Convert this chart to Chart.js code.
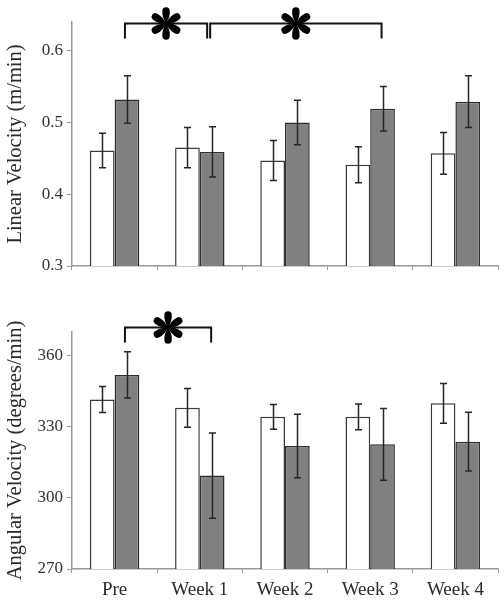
<!DOCTYPE html>
<html>
<head>
<meta charset="utf-8">
<script src="https://cdn.jsdelivr.net/npm/chart.js@4.4.1/dist/chart.umd.min.js"></script>
<style>
  html, body { margin: 0; padding: 0; background: #ffffff; }
  canvas { display: block; }
</style>
</head>
<body>
<canvas id="top" width="504" height="300"></canvas>
<canvas id="bottom" width="504" height="301"></canvas>
<script>
// ---------- DATA ----------
const categories = ['Pre', 'Week 1', 'Week 2', 'Week 3', 'Week 4'];

const linearWhite    = [0.461, 0.465, 0.447, 0.441, 0.457];
const linearWhiteErr = [0.024, 0.028, 0.028, 0.025, 0.029];
const linearGray     = [0.532, 0.459, 0.500, 0.519, 0.529];
const linearGrayErr  = [0.033, 0.035, 0.031, 0.031, 0.036];
const linearTicks    = [0.3, 0.4, 0.5, 0.6];

const angularWhite    = [341.5, 338.0, 334.2, 334.2, 339.9];
const angularWhiteErr = [5.5, 8.2, 5.2, 5.4, 8.4];
const angularGray     = [351.9, 309.4, 321.9, 322.6, 323.7];
const angularGrayErr  = [9.8, 18.0, 13.4, 15.1, 12.4];
const angularTicks    = [270, 300, 330, 360];

// significance brackets: pairs of category indices (drawn between dark bars)
const linearBrackets  = [[0, 1], [1, 3]];
const angularBrackets = [[0, 1]];

// ---------- STYLE ----------
const FONT = "'Liberation Serif', 'Times New Roman', serif";
const AXIS_COLOR = '#9a9a9a';
const TEXT_COLOR = '#2a2a2a';
const BAR_EDGE = '#3a3a3a';

const errorBarPlugin = {
  id: 'errorBars',
  afterDatasetsDraw(chart, args, opts) {
    const ctx = chart.ctx;
    const ys = chart.scales.y;
    ctx.save();
    ctx.strokeStyle = '#262626';
    ctx.lineWidth = 1.5;
    chart.data.datasets.forEach((ds, i) => {
      const meta = chart.getDatasetMeta(i);
      const errs = opts.errors[i];
      meta.data.forEach((bar, j) => {
        const v = ds.data[j], e = errs[j];
        const x = Math.round(bar.x) + 0.5;
        const y1 = ys.getPixelForValue(v + e);
        const y2 = ys.getPixelForValue(v - e);
        ctx.beginPath();
        ctx.moveTo(x, y1); ctx.lineTo(x, y2);
        ctx.moveTo(x - 3.5, y1); ctx.lineTo(x + 3.5, y1);
        ctx.moveTo(x - 3.5, y2); ctx.lineTo(x + 3.5, y2);
        ctx.stroke();
      });
    });
    ctx.restore();
  }
};

function drawAsterisk(ctx, cx, cy) {
  const angles = [90, 270, 32, 148, 212, 328];
  ctx.save();
  ctx.fillStyle = '#000';
  angles.forEach(a => {
    ctx.save();
    ctx.translate(cx, cy);
    ctx.rotate(-a * Math.PI / 180);
    ctx.beginPath();
    ctx.moveTo(0, 0);
    ctx.quadraticCurveTo(6.5, -4.2, 12.2, -3.7);
    ctx.arc(12.6, 0, 3.7, -Math.PI / 2, Math.PI / 2);
    ctx.quadraticCurveTo(6.5, 4.2, 0, 0);
    ctx.closePath();
    ctx.fill();
    ctx.restore();
  });
  ctx.beginPath();
  ctx.arc(cx, cy, 2.5, 0, Math.PI * 2);
  ctx.fill();
  ctx.restore();
}

const bracketPlugin = {
  id: 'sigBrackets',
  afterDraw(chart, args, opts) {
    const ctx = chart.ctx;
    const meta = chart.getDatasetMeta(1);
    const lineY = chart.chartArea.top + opts.lineOffset;
    const bottomY = lineY + opts.drop;
    ctx.save();
    ctx.strokeStyle = '#111';
    ctx.lineWidth = 2;
    opts.pairs.forEach((p, k) => {
      let x1 = meta.data[p[0]].x - 2;
      let x2 = meta.data[p[1]].x - 1;
      const next = opts.pairs[k + 1];
      if (next && next[0] === p[1]) x2 -= 4;
      ctx.beginPath();
      ctx.moveTo(x1, bottomY);
      ctx.lineTo(x1, lineY);
      ctx.lineTo(x2, lineY);
      ctx.lineTo(x2, bottomY);
      ctx.stroke();
      drawAsterisk(ctx, (x1 + x2) / 2, lineY);
    });
    ctx.restore();
  }
};

function makeChart(id, cfg) {
  return new Chart(document.getElementById(id), {
    type: 'bar',
    data: {
      labels: categories,
      datasets: [
        { data: cfg.white, backgroundColor: '#ffffff', borderColor: BAR_EDGE, borderWidth: 1.5,
          categoryPercentage: 0.58, barPercentage: 1.0 },
        { data: cfg.gray, backgroundColor: '#808080', borderColor: '#2e2e2e', borderWidth: 1.5,
          categoryPercentage: 0.58, barPercentage: 1.0 }
      ]
    },
    options: {
      responsive: false,
      animation: false,
      layout: { padding: { top: cfg.padTop, right: 6, left: 0, bottom: 0 } },
      plugins: {
        legend: { display: false },
        tooltip: { enabled: false },
        errorBars: { errors: [cfg.whiteErr, cfg.grayErr] },
        sigBrackets: { pairs: cfg.brackets, lineOffset: cfg.lineOffset, drop: 15 }
      },
      scales: {
        x: {
          grid: { display: true, drawOnChartArea: false, drawTicks: true, tickLength: 4,
                  color: AXIS_COLOR, offset: true },
          border: { color: AXIS_COLOR, width: 1.5 },
          ticks: { display: cfg.showX, color: TEXT_COLOR, padding: 6,
                   font: { family: FONT, size: 19 } },
          afterFit(scale) { scale.height = cfg.xHeight; }
        },
        y: {
          min: cfg.min, max: cfg.max,
          afterBuildTicks(scale) { scale.ticks = cfg.ticks.map(v => ({ value: v })); },
          grid: { display: true, drawOnChartArea: false, drawTicks: true, tickLength: 5,
                  color: AXIS_COLOR },
          border: { color: AXIS_COLOR, width: 1.5 },
          ticks: { color: '#333', padding: 4, font: { family: FONT, size: 17 },
                   callback: (v) => String(v) },
          title: { display: true, text: cfg.title, color: TEXT_COLOR,
                   font: { family: FONT, size: 20.5 }, padding: { top: 3, bottom: 0 } },
          afterFit(scale) { scale.width = 72; }
        }
      }
    },
    plugins: [errorBarPlugin, bracketPlugin]
  });
}

makeChart('top', {
  white: linearWhite, whiteErr: linearWhiteErr,
  gray: linearGray, grayErr: linearGrayErr,
  ticks: linearTicks, min: 0.3, max: 0.64,
  title: 'Linear Velocity (m/min)',
  brackets: linearBrackets, lineOffset: 1.5,
  padTop: 22, xHeight: 34, showX: false
});

makeChart('bottom', {
  white: angularWhite, whiteErr: angularWhiteErr,
  gray: angularGray, grayErr: angularGrayErr,
  ticks: angularTicks, min: 270, max: 370,
  title: 'Angular Velocity (degrees/min)',
  brackets: angularBrackets, lineOffset: -4.5,
  padTop: 32, xHeight: 32, showX: true
});
</script>
</body>
</html>
